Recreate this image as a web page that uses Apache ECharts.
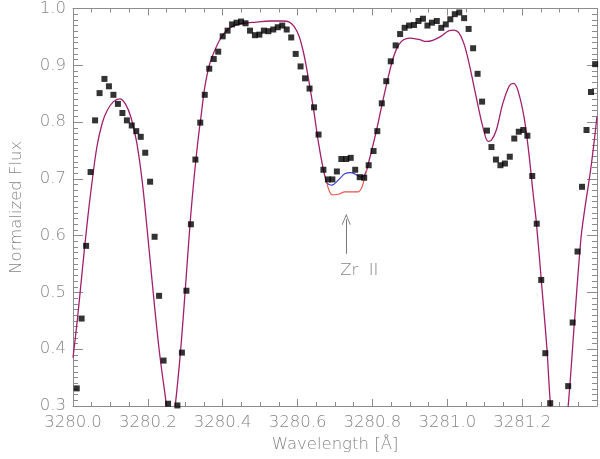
<!DOCTYPE html>
<html>
<head>
<meta charset="utf-8">
<script src="https://cdn.jsdelivr.net/npm/echarts@6/dist/echarts.min.js"></script>
<style>html,body{margin:0;padding:0;background:#fff}#c{width:600px;height:459px}</style>
</head>
<body>
<div id="c"></div>
<script>
// Observed spectrum (squares)
var obsWave = [3280.010,3280.023,3280.035,3280.047,3280.059,3280.071,3280.084,3280.096,3280.108,3280.120,3280.132,3280.144,3280.157,3280.169,3280.181,3280.193,3280.206,3280.218,3280.230,3280.242,3280.254,3280.279,3280.291,3280.303,3280.315,3280.327,3280.340,3280.352,3280.364,3280.376,3280.388,3280.400,3280.413,3280.425,3280.437,3280.449,3280.461,3280.473,3280.486,3280.498,3280.510,3280.522,3280.535,3280.547,3280.559,3280.571,3280.583,3280.595,3280.608,3280.620,3280.632,3280.644,3280.656,3280.669,3280.681,3280.693,3280.705,3280.717,3280.730,3280.742,3280.754,3280.766,3280.778,3280.790,3280.803,3280.813,3280.825,3280.837,3280.849,3280.862,3280.874,3280.886,3280.898,3280.911,3280.923,3280.935,3280.947,3280.959,3280.972,3280.984,3280.996,3281.008,3281.020,3281.032,3281.045,3281.057,3281.069,3281.081,3281.093,3281.106,3281.118,3281.130,3281.142,3281.154,3281.167,3281.179,3281.191,3281.203,3281.214,3281.227,3281.239,3281.251,3281.262,3281.275,3281.323,3281.335,3281.348,3281.360,3281.372,3281.384,3281.395];
var obsFlux = [0.331,0.454,0.582,0.712,0.803,0.851,0.876,0.863,0.848,0.832,0.816,0.803,0.794,0.784,0.774,0.746,0.695,0.598,0.494,0.380,0.304,0.301,0.394,0.503,0.620,0.734,0.799,0.848,0.894,0.911,0.924,0.951,0.961,0.972,0.975,0.977,0.974,0.961,0.953,0.954,0.961,0.960,0.963,0.967,0.970,0.963,0.949,0.920,0.898,0.877,0.859,0.826,0.778,0.716,0.699,0.699,0.713,0.735,0.735,0.737,0.716,0.703,0.702,0.724,0.749,0.784,0.833,0.872,0.907,0.935,0.955,0.966,0.970,0.971,0.978,0.982,0.970,0.975,0.978,0.966,0.972,0.981,0.990,0.993,0.983,0.964,0.930,0.885,0.836,0.785,0.756,0.734,0.724,0.727,0.739,0.771,0.783,0.786,0.776,0.705,0.621,0.522,0.393,0.305,0.335,0.447,0.572,0.686,0.786,0.853,0.902];

// Synthetic spectrum (common part, purple)
var modelWave = [3280.000,3280.012,3280.025,3280.038,3280.050,3280.064,3280.078,3280.091,3280.108,3280.125,3280.140,3280.155,3280.170,3280.185,3280.200,3280.215,3280.230,3280.245,3280.262,3280.273,3280.287,3280.300,3280.313,3280.324,3280.334,3280.343,3280.352,3280.365,3280.378,3280.395,3280.413,3280.430,3280.456,3280.491,3280.526,3280.561,3280.578,3280.591,3280.604,3280.617,3280.630,3280.643,3280.656,3280.669,3280.678,null,3280.785,3280.796,3280.811,3280.826,3280.844,3280.857,3280.870,3280.883,3280.900,3280.926,3280.944,3280.961,3280.983,3281.005,3281.018,3281.031,3281.044,3281.057,3281.070,3281.083,3281.096,3281.109,3281.118,3281.131,3281.148,3281.166,3281.177,3281.189,3281.205,3281.218,3281.229,3281.238,3281.253,3281.266,3281.276,3281.300,3281.323,3281.340,3281.357,3281.366,3281.383,3281.396,3281.400];
var modelFlux = [0.385,0.454,0.540,0.623,0.690,0.757,0.798,0.820,0.836,0.841,0.832,0.808,0.765,0.695,0.598,0.495,0.400,0.325,0.250,0.300,0.394,0.505,0.623,0.705,0.768,0.815,0.861,0.902,0.925,0.948,0.963,0.970,0.974,0.976,0.978,0.978,0.976,0.968,0.951,0.919,0.873,0.821,0.763,0.716,0.693,null,0.716,0.745,0.786,0.832,0.884,0.916,0.936,0.945,0.948,0.945,0.942,0.944,0.951,0.961,0.962,0.957,0.939,0.907,0.867,0.826,0.789,0.766,0.768,0.786,0.832,0.864,0.868,0.855,0.809,0.745,0.676,0.623,0.507,0.403,0.300,0.150,0.300,0.450,0.594,0.641,0.716,0.786,0.810];

// Zr II region: two syntheses
var zrWave = [3280.678,3280.684,3280.692,3280.709,3280.726,3280.743,3280.761,3280.771,3280.778,3280.785];
var zrBlue = [0.693,0.690,0.689,0.698,0.709,0.711,0.706,0.703,0.706,0.716];
var zrRed  = [0.693,0.680,0.672,0.673,0.677,0.677,0.677,0.684,0.699,0.716];

var xTicks = ['3280.0','3280.2','3280.4','3280.6','3280.8','3281.0','3281.2'];
var yTicks = ['0.3','0.4','0.5','0.6','0.7','0.8','0.9','1.0'];

var zrArrow = {wave: 3280.730, top: 0.629, bottom: 0.568};
var zrLabel = {wave: 3280.765, flux: 0.538, text: 'Zr  II'};

function pairs(xs, ys){ return xs.map(function(x,i){ return [x, ys[i]]; }); }
function pairsBreak(xs, ys){ return xs.map(function(x,i){ return x===null ? '-' : [x, ys[i]]; }); }

var gray = '#8c8c8c';
var txt = '#858585';
var font = 'DejaVu Sans';
var fs = 16.5;

var chart = echarts.init(document.getElementById('c'), null, {renderer:'canvas'});
function axisX(pos, showLabel){
  return {
    type:'value', position: pos, min:3280.0, max:3281.4, interval:0.2,
    axisLine:{show:true, onZero:false, lineStyle:{color:gray, width:1}},
    axisTick:{show:true, inside:true, length:7, lineStyle:{color:gray}},
    minorTick:{show:true, splitNumber:4, length:4, lineStyle:{color:gray}},
    splitLine:{show:false},
    axisLabel:{show:showLabel, margin:8, color:txt, fontSize:fs, fontFamily:font, fontWeight:200,
      formatter:function(v){ var s=v.toFixed(1); return xTicks.indexOf(s)>=0 ? s : ''; }},
    name: showLabel ? 'Wavelength [Å]' : '', nameLocation:'middle', nameGap:25,
    nameTextStyle:{color:txt, fontSize:fs, fontFamily:font, fontWeight:200}
  };
}
function axisY(pos, showLabel){
  return {
    type:'value', position: pos, min:0.3, max:1.0, interval:0.1,
    axisLine:{show:true, onZero:false, lineStyle:{color:gray, width:1}},
    axisTick:{show:true, inside:true, length:10, lineStyle:{color:gray}},
    minorTick:{show:true, splitNumber:10, length:5, lineStyle:{color:gray}},
    splitLine:{show:false},
    axisLabel:{show:showLabel, margin:7, color:txt, fontSize:fs, fontFamily:font, fontWeight:200,
      formatter:function(v){ var s=v.toFixed(1); return yTicks.indexOf(s)>=0 ? s : ''; }},
    name: showLabel ? 'Normalized Flux' : '', nameLocation:'middle', nameGap:48,
    nameTextStyle:{color:txt, fontSize:fs, fontFamily:font, fontWeight:200}
  };
}

var option = {
  animation:false,
  backgroundColor:'#fff',
  grid:{left:62, top:3, width:536, height:403},
  xAxis:[axisX('bottom', true), axisX('top', false)],
  yAxis:[axisY('left', true), axisY('right', false)],
  series:[
    {type:'line', data:pairsBreak(modelWave, modelFlux), smooth:0.35, showSymbol:false, symbol:'none',
     connectNulls:false, clip:true, lineStyle:{color:'#a0206e', width:1.3}, z:2},
    {type:'line', data:pairs(zrWave, zrBlue), smooth:0.3, symbol:'none', clip:true,
     lineStyle:{color:'#3a3ad8', width:1.1}, z:2},
    {type:'line', data:pairs(zrWave, zrRed), smooth:0.3, symbol:'none', clip:true,
     lineStyle:{color:'#e8504a', width:1.1}, z:2},
    {type:'scatter', data:pairs(obsWave, obsFlux), symbol:'rect', symbolSize:6, clip:true,
     itemStyle:{color:'#000'}, z:3,
     markLine:{silent:true, animation:false,
       symbol:['path://M5,0 L10,11 L9,11 L5,2.2 L1,11 L0,11 Z','none'], symbolSize:[9,11],
       lineStyle:{color:'#777', width:1, type:'solid'}, label:{show:false},
       data:[[{coord:[zrArrow.wave, zrArrow.top]},{coord:[zrArrow.wave, zrArrow.bottom]}]]},
     markPoint:{silent:true, animation:false, symbol:'circle', symbolSize:1, itemStyle:{color:'rgba(0,0,0,0)'},
       label:{show:true, position:'inside', color:txt, fontSize:fs, fontFamily:font, fontWeight:200, formatter:zrLabel.text},
       data:[{coord:[zrLabel.wave, zrLabel.flux]}]}
    }
  ]
};
chart.setOption(option);
</script>
</body>
</html>
